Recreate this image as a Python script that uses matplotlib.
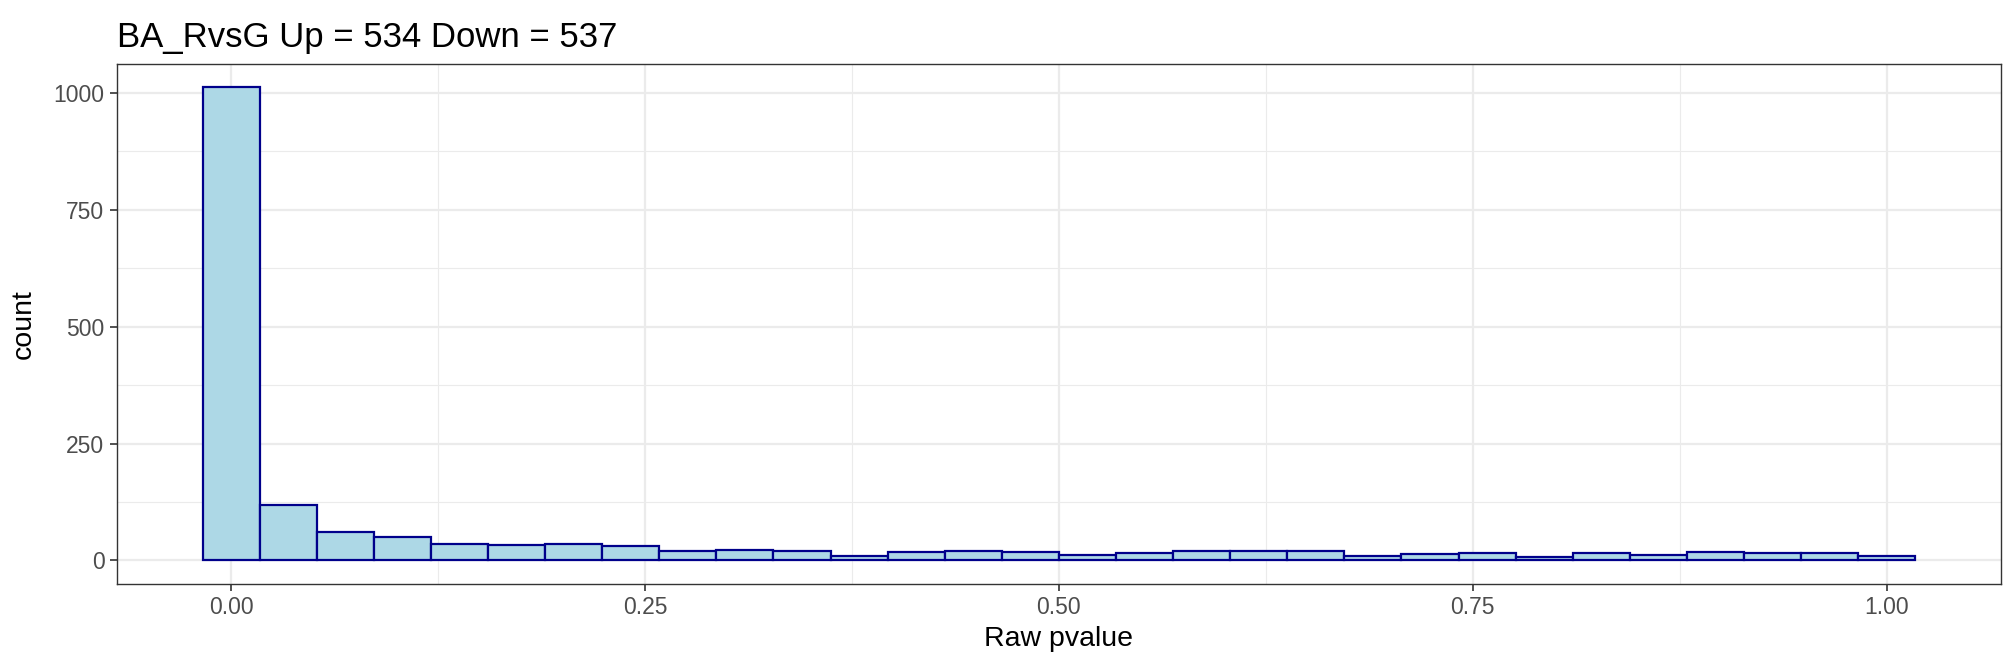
import matplotlib
matplotlib.use("Agg")
import matplotlib.pyplot as plt
import numpy as np
from matplotlib.ticker import MultipleLocator

plt.rcParams["font.family"] = ["Liberation Sans", "DejaVu Sans"]

# histogram of raw p-values, 30 bins over [0, 1] (ggplot default binning)
counts = [1012, 119, 61, 50, 36, 33, 34, 30, 19, 23, 20, 9, 18, 21, 18,
          12, 16, 21, 19, 19, 10, 13, 16, 8, 16, 12, 18, 16, 15, 9]
x_ticks = [0.0, 0.25, 0.5, 0.75, 1.0]
x_tick_labels = ["0.00", "0.25", "0.50", "0.75", "1.00"]
y_ticks = [0, 250, 500, 750, 1000]
title = "BA_RvsG Up = 534 Down = 537"

n_bins = len(counts)
width = 1.0 / (n_bins - 1)
centers = np.arange(n_bins) * width

fig = plt.figure(figsize=(20.16, 6.72), dpi=100)
ax = fig.add_axes([0.058, 0.131, 0.9345, 0.774])

ax.bar(centers, counts, width=width, color="#ADD8E6", edgecolor="#00008B",
       linewidth=1.6, zorder=3)

lo, hi = centers[0] - width / 2, centers[-1] + width / 2
pad = 0.05 * (hi - lo)
ax.set_xlim(lo - pad, hi + pad)
ymax = max(counts)
ax.set_ylim(-0.05 * ymax, ymax * 1.05)

ax.set_xticks(x_ticks)
ax.set_xticklabels(x_tick_labels)
ax.set_yticks(y_ticks)
ax.xaxis.set_minor_locator(MultipleLocator(0.125))
ax.yaxis.set_minor_locator(MultipleLocator(125))

ax.grid(which="major", color="#EBEBEB", linewidth=1.6, zorder=0)
ax.grid(which="minor", color="#EBEBEB", linewidth=0.8, zorder=0)
ax.set_axisbelow(True)

ax.tick_params(which="major", length=5, width=1.2, color="#333333",
               labelsize=16.5, labelcolor="#4D4D4D", pad=4)
ax.tick_params(which="minor", length=0)
for s in ax.spines.values():
    s.set_color("#333333")
    s.set_linewidth(1.0)

ax.set_xlabel("Raw pvalue", fontsize=20.5, labelpad=5)
ax.set_ylabel("count", fontsize=20.5, labelpad=12)
ax.set_title(title, fontsize=25, loc="left", pad=12)

fig.savefig("out.png", dpi=100, facecolor="white")
